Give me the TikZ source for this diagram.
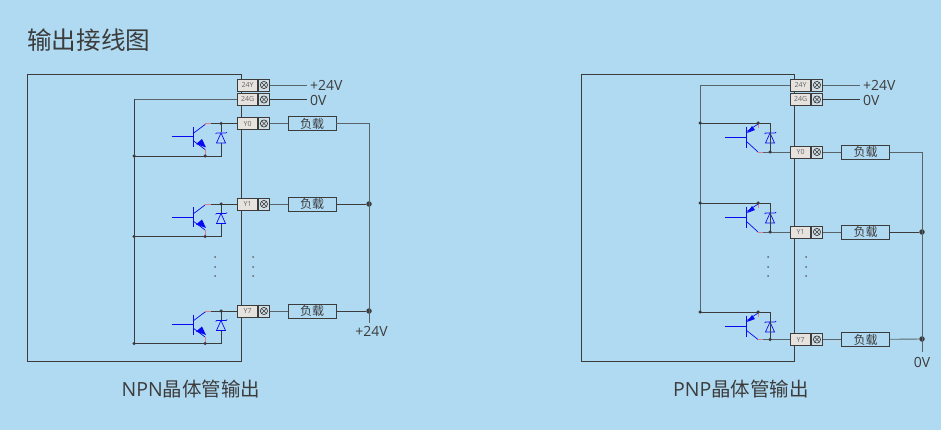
\documentclass[tikz,border=0pt]{standalone}
\usepackage{fontspec}
\setmainfont{Open Sans}
\newfontfamily\cjk{Noto Sans CJK SC}
\usetikzlibrary{positioning, calc}
\definecolor{panelblue}{HTML}{B0DAF2}
\definecolor{wiregrey}{HTML}{3C3C3C}
\definecolor{termfill}{HTML}{E6E2DE}
\definecolor{transblue}{HTML}{0A0AF0}
\definecolor{leadpink}{HTML}{D8808C}
\tikzset{
    wire/.style={draw=wiregrey, line width=0.8pt},
    softwire/.style={draw=wiregrey!75!panelblue, line width=0.9pt},
    transline/.style={draw=transblue, line width=0.7pt},
    pinkline/.style={draw=leadpink, line width=0.9pt},
    termbox/.style={draw=wiregrey, line width=0.9pt, fill=termfill, minimum width=20pt, minimum height=12pt, inner sep=0pt, text=black!60, font=\fontsize{7}{7}\selectfont},
    screwbox/.style={draw=wiregrey, line width=0.9pt, fill=termfill!60!panelblue, minimum width=11pt, minimum height=12pt, inner sep=0pt},
    loadbox/.style={draw=wiregrey, line width=0.9pt, fill=panelblue, minimum width=48pt, minimum height=14pt, inner sep=0pt, text=wiregrey, font=\cjk\fontsize{12}{12}\selectfont},
    junction/.style={circle, fill=wiregrey, inner sep=0pt, minimum size=3.5pt},
    bigjunction/.style={circle, fill=wiregrey, inner sep=0pt, minimum size=5.5pt},
    voltlabel/.style={text=wiregrey, inner sep=0pt, font=\fontsize{14}{14}\selectfont},
    captionlabel/.style={text=wiregrey, inner sep=0pt, font=\fontsize{19.5}{19.5}\selectfont},
    vdot/.style={circle, fill=wiregrey!80, inner sep=0pt, minimum size=2pt},
}

% terminal: name, right side of label part, y, text
\newcommand{\terminal}[4]{
    \node[termbox, anchor=east] (#1) at (#2,#3) {#4};
    \node[screwbox, anchor=west] (#1s) at (#1.east) {};
    \draw[wire, line width=0.7pt] (#1s) circle (3.6pt);
    \draw[wire, line width=0.6pt] ($(#1s)+(-2.5,-2.5)$) -- ($(#1s)+(2.5,2.5)$);
    \draw[wire, line width=0.6pt] ($(#1s)+(-2.5,2.5)$) -- ($(#1s)+(2.5,-2.5)$);
}

% npn cell: name, row y
\newcommand{\npncell}[2]{
    \begin{scope}[shift={(0,#2)}]
    \coordinate (#1c) at (205,0);
    \coordinate (#1e) at (205,32.5);
    \coordinate (#1r) at (134,32.5);
    \draw[wire] (#1c) -- (#1t.west);
    \draw[wire] (#1r) -- (221,32.5) -- (221,0);
    \draw[pinkline] (205,0) -- (211,0);
    \draw[pinkline] (205,0) -- (205,1.5);
    \draw[pinkline] (205,26) -- (#1e);
    \draw[transline] (172,13) -- (193,13);
    \draw[transline, line width=1pt] (193,3.5) -- (193,23.5);
    \draw[transline] (193,10) -- (205,1);
    \draw[transline] (193,17) -- (205,26);
    \fill[transblue] (206,24) -- (196,20.5) -- (202,15.5) -- cycle;
    \fill[panelblue] (216,9) rectangle (226,20);
    \draw[transline, line width=0.7pt] (215.5,10.5) -- (216.5,9.5) -- (226,9.5) -- (227,8.5);
    \draw[transline, line width=0.7pt] (221,9.5) -- (216.5,19.5) -- (225.5,19.5) -- cycle;
    \node[junction] (#1a) at (205,32.5) {};
    \node[junction] (#1b) at (221,0) {};
    \node[junction] (#1d) at (134,32.5) {};
    \end{scope}
}

% pnp cell: name, rail y, row y
\newcommand{\pnpcell}[3]{
    \begin{scope}[shift={(0,#2)}]
    \draw[transline] (725,14) -- (746,14);
    \draw[transline, line width=1pt] (746,4) -- (746,25);
    \draw[transline] (746,9) -- (758,1);
    \draw[transline] (746,18) -- (758,#3-#2);
    \fill[transblue] (747,10) -- (755,7) -- (752,3) -- cycle;
    \draw[pinkline] (758,1) -- (758,5);
    \fill[panelblue] (765,9) rectangle (775,20);
    \draw[transline, line width=0.7pt] (764.5,11) -- (765.5,10) -- (775,10) -- (776,9);
    \draw[transline, line width=0.7pt] (770,10) -- (765.5,20) -- (774.5,20) -- cycle;
    \end{scope}
    \draw[wire] (700,#2) -- (770,#2) -- (770,#3);
    \draw[softwire] (763,#3) -- (#1t.west);
    \draw[pinkline] (758,#3) -- (763,#3);
    \node[junction] (#1a) at (758,#2) {};
    \node[junction] (#1b) at (770,#3) {};
    \node[junction] (#1d) at (700,#2) {};
}

\begin{document}
\begin{tikzpicture}[x=1pt, y=-1pt]
\fill[panelblue] (0,0) rectangle (941,430);
\node[anchor=west, inner sep=0pt, text=wiregrey, font=\cjk\fontsize{24.6}{24.6}\selectfont] (title) at (27,40) {输出接线图};

% NPN side
\draw[wire] (27,74) rectangle (241,361);
\terminal{npnY}{258}{85}{24Y}
\terminal{npnG}{258}{99.5}{24G}
\terminal{npnA}{258}{123.5}{Y0}
\terminal{npnB}{258}{204}{Y1}
\terminal{npnC}{258}{311}{Y7}
\coordinate (npnYend) at (307,85);
\coordinate (npnGend) at (307,99.5);
\coordinate (npnGcorner) at (134,99.5);
\coordinate (npnGfoot) at (134,344);
\draw[softwire] (npnYs) -- (npnYend);
\draw[wire] (npnGs) -- (npnGend);
\draw[softwire] (npnG.west) -- (npnGcorner);
\draw[wire] (npnGcorner) -- (npnGfoot);
\node[voltlabel, anchor=west] (npnVp) at (310,85) {+24V};
\node[voltlabel, anchor=west] (npnVz) at (310,100) {0V};
\foreach \nm/\yy in {npnA/123.5, npnB/204, npnC/311} {
    \coordinate (\nm t) at (\nm.west);
    \npncell{\nm}{\yy}
    \node[loadbox] (\nm l) at (312,\yy) {负载};
    \draw[softwire] (\nm s) -- (\nm l);
}
\node[bigjunction] (npnJa) at (369,204) {};
\node[bigjunction] (npnJb) at (369,311) {};
\coordinate (npnEnd) at (369,323);
\coordinate (npnCorner) at (369,123.5);
\draw[softwire] (npnAl) -- (npnCorner) -- (npnEnd);
\draw[wire] (npnBl) -- (npnJa);
\draw[wire] (npnCl) -- (npnJb);
\node[voltlabel] (npnVend) at (371.5,331) {+24V};
\foreach \yy in {257,267,276} {
    \node[vdot] at (215,\yy) {};
    \node[vdot] at (253,\yy) {};
}
\node[captionlabel] (npnCap) at (191,389) {NPN{\cjk 晶体管输出}};

% PNP side
\draw[wire] (581,74) rectangle (794,361);
\terminal{pnpY}{811}{85}{24Y}
\terminal{pnpG}{811}{99.5}{24G}
\terminal{pnpA}{811}{152}{Y0}
\terminal{pnpB}{811}{232}{Y1}
\terminal{pnpC}{811}{339.5}{Y7}
\coordinate (pnpYend) at (860,85);
\coordinate (pnpGend) at (860,99.5);
\coordinate (pnpYcorner) at (700,85);
\coordinate (pnpYfoot) at (700,312);
\draw[softwire] (pnpYs) -- (pnpYend);
\draw[wire] (pnpGs) -- (pnpGend);
\draw[softwire] (pnpY.west) -- (pnpYcorner) -- (pnpYfoot);
\node[voltlabel, anchor=west] (pnpVp) at (863,85) {+24V};
\node[voltlabel, anchor=west] (pnpVz) at (863,100) {0V};
\foreach \nm/\ry/\yy in {pnpA/123/152, pnpB/203/232, pnpC/312/339.5} {
    \coordinate (\nm t) at (\nm.west);
    \pnpcell{\nm}{\ry}{\yy}
    \node[loadbox] (\nm l) at (865.5,\yy) {负载};
    \draw[softwire] (\nm s) -- (\nm l);
}
\node[bigjunction] (pnpJa) at (922,232) {};
\node[bigjunction] (pnpJb) at (922,339) {};
\coordinate (pnpEnd) at (922,352);
\coordinate (pnpCorner) at (922,152);
\draw[softwire] (pnpAl) -- (pnpCorner) -- (pnpEnd);
\draw[wire] (pnpBl) -- (pnpJa);
\draw[softwire] (pnpCl) -- (pnpJb);
\node[voltlabel] (pnpVend) at (922,362) {0V};
\foreach \yy in {257,267,276} {
    \node[vdot] at (768,\yy) {};
    \node[vdot] at (806,\yy) {};
}
\node[captionlabel] (pnpCap) at (741,389) {PNP{\cjk 晶体管输出}};
\end{tikzpicture}
\end{document}
